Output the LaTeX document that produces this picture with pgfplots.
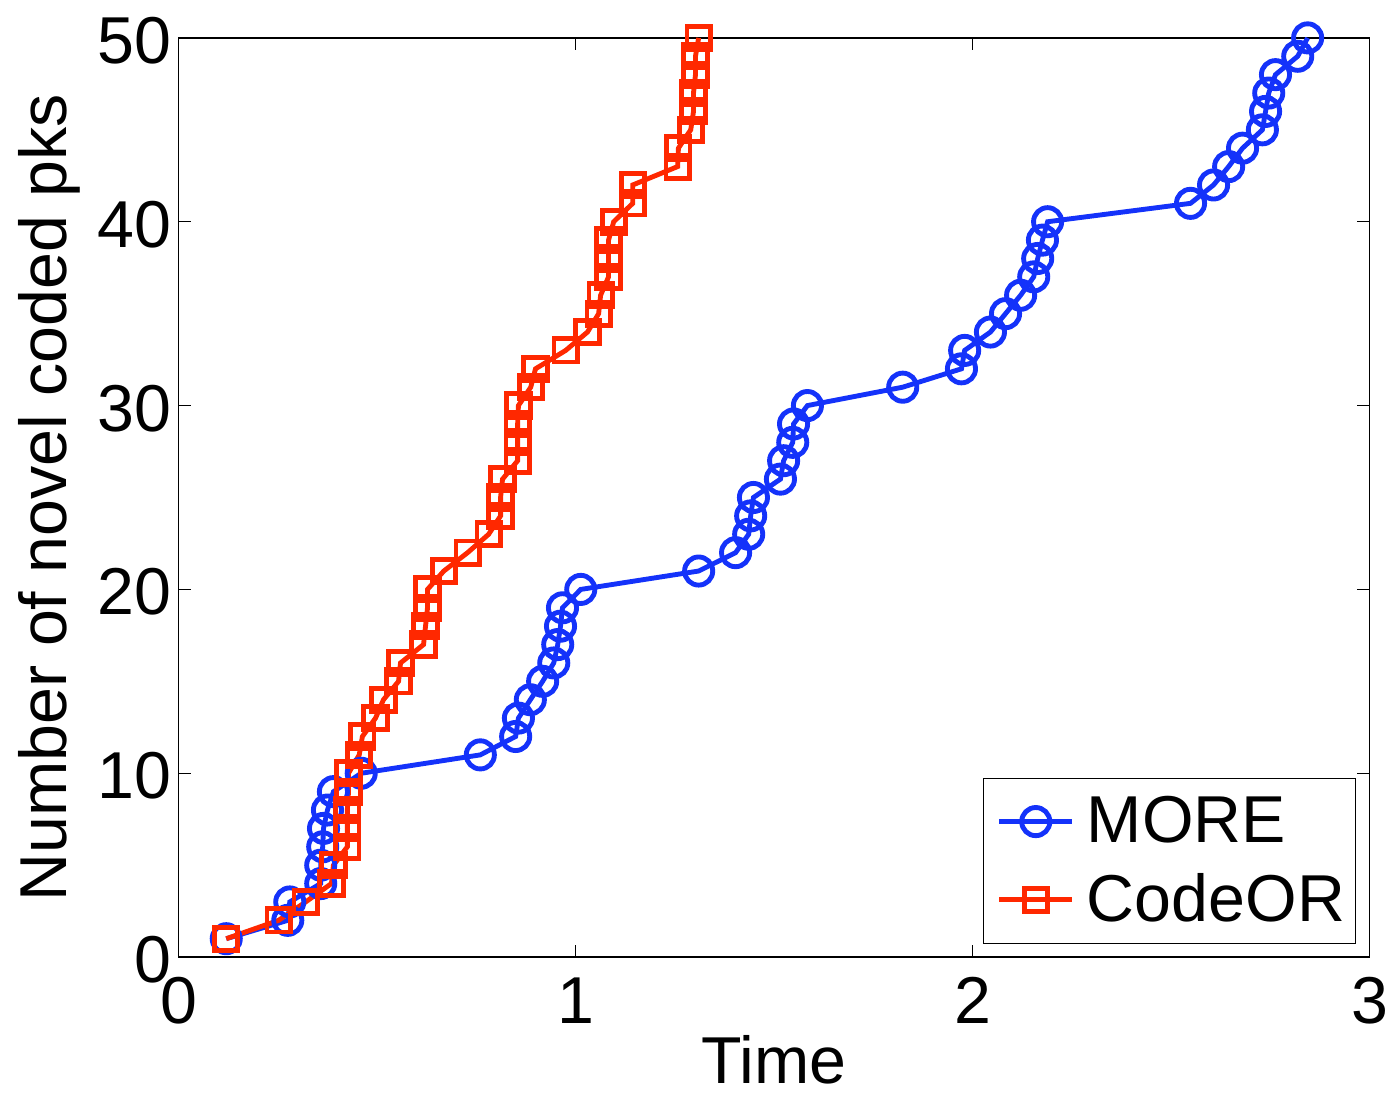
\documentclass[border=0pt]{standalone}
\usepackage{pgfplots}
\pgfplotsset{compat=1.18}
\usepackage{fontspec}
\setmainfont{Liberation Sans}

\definecolor{moreblue}{RGB}{20,50,250}
\definecolor{codered}{RGB}{255,40,0}

\begin{document}
\begin{tikzpicture}
\begin{axis}[
    scale only axis,
    width=440pt,
    height=339.6pt,
    xmin=0, xmax=3,
    ymin=0, ymax=50,
    xtick={0,1,2,3},
    ytick={0,10,20,30,40,50},
    tick align=inside,
    major tick length=4.5pt,
    axis line style={line width=0.5pt},
    tick style={line width=0.5pt, black},
    tick label style={font=\fontsize{24.5}{28}\selectfont},
    xticklabel style={inner xsep=0pt, yshift=-4pt},
    yticklabel style={inner xsep=2.5pt, yshift=-1pt},
    /pgf/number format/assume math mode=true,
    label style={font=\fontsize{24.5}{28}\selectfont},
    xlabel={Time},
    ylabel={Number of novel coded pks},
    xlabel style={yshift=0.5pt, inner ysep=1pt},
    ylabel style={inner ysep=7pt, yshift=-3.5pt},
    legend style={
        at={(0.989,0.014)}, anchor=south east,
        font=\fontsize{24.5}{28}\selectfont,
        draw=black, line width=0.5pt,
        inner xsep=2pt, inner ysep=4.5pt,
        row sep=6pt,
        /tikz/every odd column/.append style={column sep=2.5pt},
    },
    legend cell align=left,
    legend image code/.code={
        \path (-3pt,0pt);
        \draw[#1] (0cm,0cm) -- (0.95cm,0cm);
        \draw[#1, mark repeat=2, mark phase=2] plot coordinates {(0cm,0cm) (0.475cm,0cm) (0.95cm,0cm)};
    },
]

% MORE (blue circles)
\addplot[color=moreblue, line width=1.8pt, mark=o, mark size=5.2pt,
    mark options={line width=1.8pt}] coordinates {
    (0.12,1) (0.275,2) (0.28,3) (0.358,4) (0.358,5) (0.363,6) (0.365,7)
    (0.375,8) (0.39,9) (0.46,10) (0.76,11) (0.849,12) (0.856,13) (0.886,14)
    (0.917,15) (0.945,16) (0.955,17) (0.962,18) (0.967,19) (1.013,20)
    (1.31,21) (1.403,22) (1.436,23) (1.441,24) (1.448,25) (1.516,26)
    (1.524,27) (1.547,28) (1.549,29) (1.584,30) (1.824,31) (1.972,32)
    (1.98,33) (2.045,34) (2.083,35) (2.121,36) (2.154,37) (2.164,38)
    (2.176,39) (2.189,40) (2.549,41) (2.607,42) (2.645,43) (2.68,44)
    (2.73,45) (2.738,46) (2.746,47) (2.763,48) (2.819,49) (2.844,50)
};
\addlegendentry{MORE}

% CodeOR (red squares)
\addplot[color=codered, line width=1.8pt, mark=square, mark size=4.3pt,
    mark options={line width=1.8pt}] coordinates {
    (0.12,1) (0.252,2) (0.32,3) (0.385,4) (0.39,5) (0.425,6) (0.425,7)
    (0.425,8) (0.428,9) (0.428,10) (0.455,11) (0.463,12) (0.496,13)
    (0.516,14) (0.554,15) (0.559,16) (0.617,17) (0.622,18) (0.627,19)
    (0.627,20) (0.668,21) (0.728,22) (0.781,23) (0.811,24) (0.811,25)
    (0.816,26) (0.854,27) (0.854,28) (0.854,29) (0.856,30) (0.887,31)
    (0.899,32) (0.975,33) (1.03,34) (1.058,35) (1.063,36) (1.083,37)
    (1.083,38) (1.083,39) (1.096,40) (1.144,41) (1.144,42) (1.257,43)
    (1.259,44) (1.29,45) (1.297,46) (1.297,47) (1.302,48) (1.302,49)
    (1.31,50)
};
\addlegendentry{CodeOR}

\end{axis}
\path (current axis.north) ++(0pt,14pt);
\path (current axis.south) ++(0pt,-53.5pt);
\end{tikzpicture}
\end{document}
